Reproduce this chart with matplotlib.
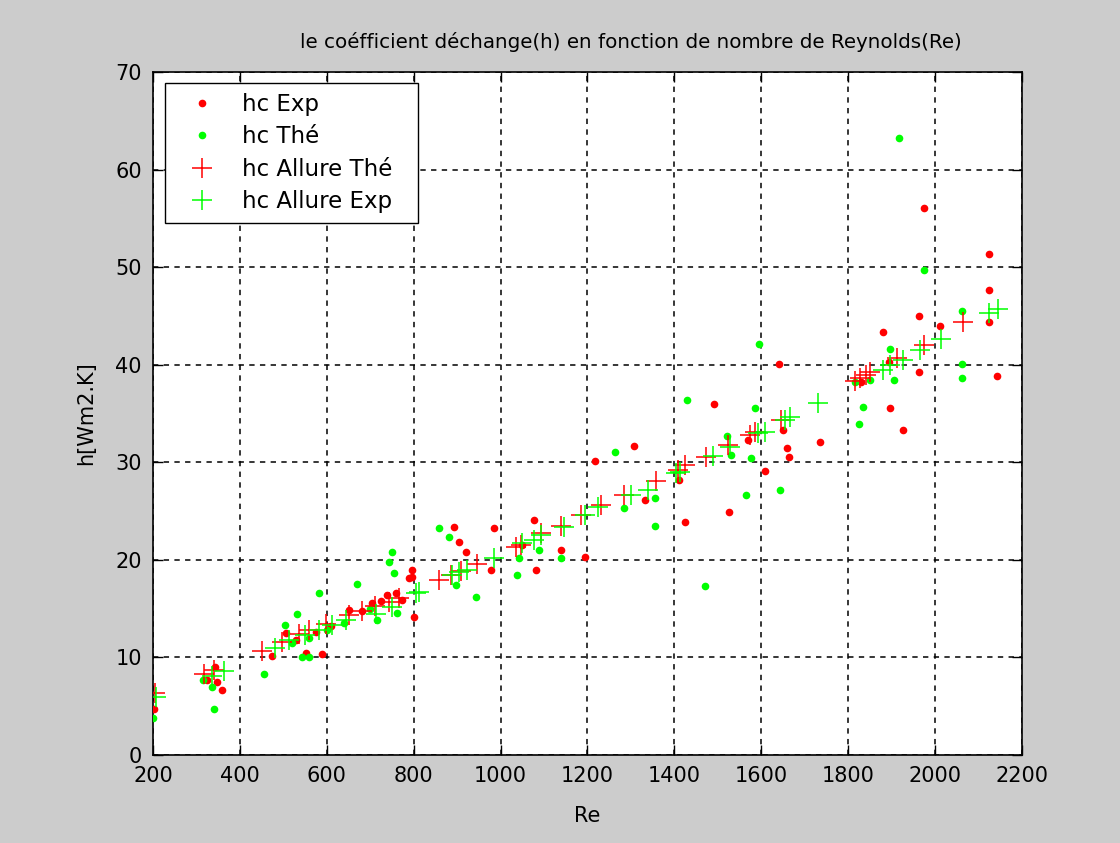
import matplotlib
matplotlib.use("Agg")
import matplotlib.pyplot as plt

plt.rcParams['font.family'] = ['DejaVu Sans']

# hc Exp (red dots)
re_exp = [202, 324, 342, 347, 358, 473, 507, 530, 553, 575, 590, 610, 652, 680, 705, 725,
          739, 760, 773, 790, 796, 796, 801, 893, 904, 920, 977, 984, 1050, 1076, 1081,
          1140, 1195, 1218, 1306, 1333, 1411, 1425, 1491, 1525, 1569, 1608, 1640, 1650,
          1659, 1663, 1734, 1830, 1881, 1895, 1897, 1927, 1962, 1964, 1975, 2012, 2124,
          2124, 2124, 2142]
h_exp = [4.7, 7.7, 9.0, 7.5, 6.7, 10.1, 12.5, 11.8, 10.5, 12.6, 10.3, 13.2, 14.9, 14.8,
         15.6, 15.8, 16.4, 16.6, 15.9, 18.1, 19.0, 18.2, 14.1, 23.4, 21.8, 20.8, 19.0,
         23.3, 21.5, 24.1, 19.0, 21.0, 20.3, 30.1, 31.7, 26.1, 28.2, 23.9, 36.0, 24.9,
         32.3, 29.1, 40.1, 33.3, 31.5, 30.5, 32.1, 38.2, 43.4, 40.3, 35.6, 33.3, 39.3,
         45.0, 56.1, 44.0, 51.3, 47.7, 44.4, 38.8]

# hc Thé (green dots)
re_the = [200, 315, 335, 340, 455, 503, 520, 532, 544, 560, 560, 583, 600, 640, 670, 700,
          716, 744, 750, 755, 762, 858, 881, 897, 943, 1037, 1042, 1088, 1140, 1264, 1283,
          1356, 1356, 1429, 1470, 1521, 1530, 1565, 1576, 1585, 1594, 1643, 1815, 1826,
          1833, 1851, 1897, 1906, 1918, 1975, 2062, 2062, 2062]
h_the = [3.8, 7.7, 7.0, 4.7, 8.3, 13.3, 11.5, 14.5, 10.0, 10.0, 12.0, 16.6, 12.8, 13.5,
         17.5, 15.0, 13.8, 19.8, 20.8, 18.7, 14.6, 23.3, 22.3, 17.4, 16.2, 18.4, 20.2,
         21.0, 20.2, 31.1, 25.3, 26.3, 23.5, 36.4, 17.3, 32.7, 30.7, 26.6, 30.4, 35.6,
         42.1, 27.2, 38.2, 33.9, 35.7, 38.4, 41.6, 38.4, 63.2, 49.7, 45.5, 40.1, 38.6]

# hc Allure Thé (red +)
re_all_the = [205, 318, 340, 452, 496, 537, 560, 599, 652, 682, 712, 744, 767, 858, 886,
              910, 945, 1035, 1046, 1094, 1140, 1186, 1230, 1283, 1358, 1408, 1425, 1473,
              1523, 1574, 1585, 1645, 1815, 1828, 1840, 1851, 1913, 1975, 2065]
h_all_the = [6.4, 8.3, 8.7, 10.7, 11.6, 12.4, 12.8, 13.4, 14.3, 14.8, 15.3, 15.7, 16.1,
             17.9, 18.4, 18.9, 19.6, 21.3, 21.5, 22.8, 23.5, 24.6, 25.6, 26.6, 28.1, 29.2,
             29.7, 30.5, 31.8, 32.8, 33.1, 34.3, 38.3, 38.6, 38.9, 39.3, 40.7, 42.0, 44.4]

# hc Allure Exp (green +)
re_all_exp = [207, 335, 363, 480, 514, 549, 583, 613, 645, 714, 750, 805, 812, 888, 904,
              922, 984, 1049, 1076, 1094, 1145, 1195, 1225, 1301, 1340, 1404, 1413, 1489,
              1528, 1592, 1608, 1654, 1666, 1730, 1879, 1897, 1925, 1966, 2014, 2124, 2145]
h_all_exp = [5.9, 8.1, 8.6, 11.0, 11.8, 12.3, 12.8, 13.3, 13.8, 14.5, 15.2, 16.6, 16.7,
             18.4, 18.8, 19.0, 20.2, 21.7, 22.0, 22.5, 23.4, 24.6, 25.4, 26.6, 27.2, 28.9,
             29.0, 30.6, 31.6, 33.0, 33.1, 34.3, 34.6, 36.1, 39.5, 40.0, 40.5, 41.5, 42.6,
             45.3, 45.7]

xticks = [200, 400, 600, 800, 1000, 1200, 1400, 1600, 1800, 2000, 2200]
yticks = [0, 10, 20, 30, 40, 50, 60, 70]

fig = plt.figure(figsize=(11.2, 8.43), dpi=100, facecolor='#cccccc')
ax = fig.add_axes([0.1366, 0.1044, 0.7759, 0.8102])
ax.set_facecolor('white')

ax.plot(re_exp, h_exp, 'o', color='#ff0000', markersize=5.5, markeredgewidth=0,
        label='hc Exp', zorder=3)
ax.plot(re_the, h_the, 'o', color='#00ff00', markersize=5.5, markeredgewidth=0,
        label='hc Thé', zorder=3)
ax.plot(re_all_the, h_all_the, '+', color='#ff0000', markersize=15, markeredgewidth=1.1,
        label='hc Allure Thé', zorder=4)
ax.plot(re_all_exp, h_all_exp, '+', color='#00ff00', markersize=15, markeredgewidth=1.1,
        label='hc Allure Exp', zorder=4)

ax.set_xlim(200, 2200)
ax.set_ylim(0, 70)
ax.set_xticks(xticks)
ax.set_yticks(yticks)
ax.grid(True, color='black', linestyle=(0, (3.5, 3.5)), linewidth=1.1)
ax.set_axisbelow(True)
ax.tick_params(direction='in', top=True, right=True, length=7, width=1,
               labelsize=15, pad=8, colors='black')
for s in ax.spines.values():
    s.set_linewidth(1.2)
    s.set_color('black')

ax.set_title("le coéfficient déchange(h) en fonction de nombre de Reynolds(Re)",
             fontsize=14.3, pad=17, x=0.55)
ax.set_xlabel('Re', fontsize=15, labelpad=14)
ax.set_ylabel('h[Wm2.K]', fontsize=15, labelpad=14)

leg = ax.legend(loc='upper left', bbox_to_anchor=(0.0138, 0.5, 0.291, 0.484),
                mode='expand', fontsize=16.5,
                frameon=True, fancybox=False, shadow=False, borderaxespad=0,
                handlelength=2.36, handletextpad=0.57, borderpad=0.45, labelspacing=0.4,
                markerscale=1.0)
leg.get_frame().set_edgecolor('black')
leg.get_frame().set_linewidth(1.0)
leg.get_frame().set_facecolor('white')
leg.get_frame().set_alpha(1)

fig.savefig('out.png', dpi=100, facecolor=fig.get_facecolor())
